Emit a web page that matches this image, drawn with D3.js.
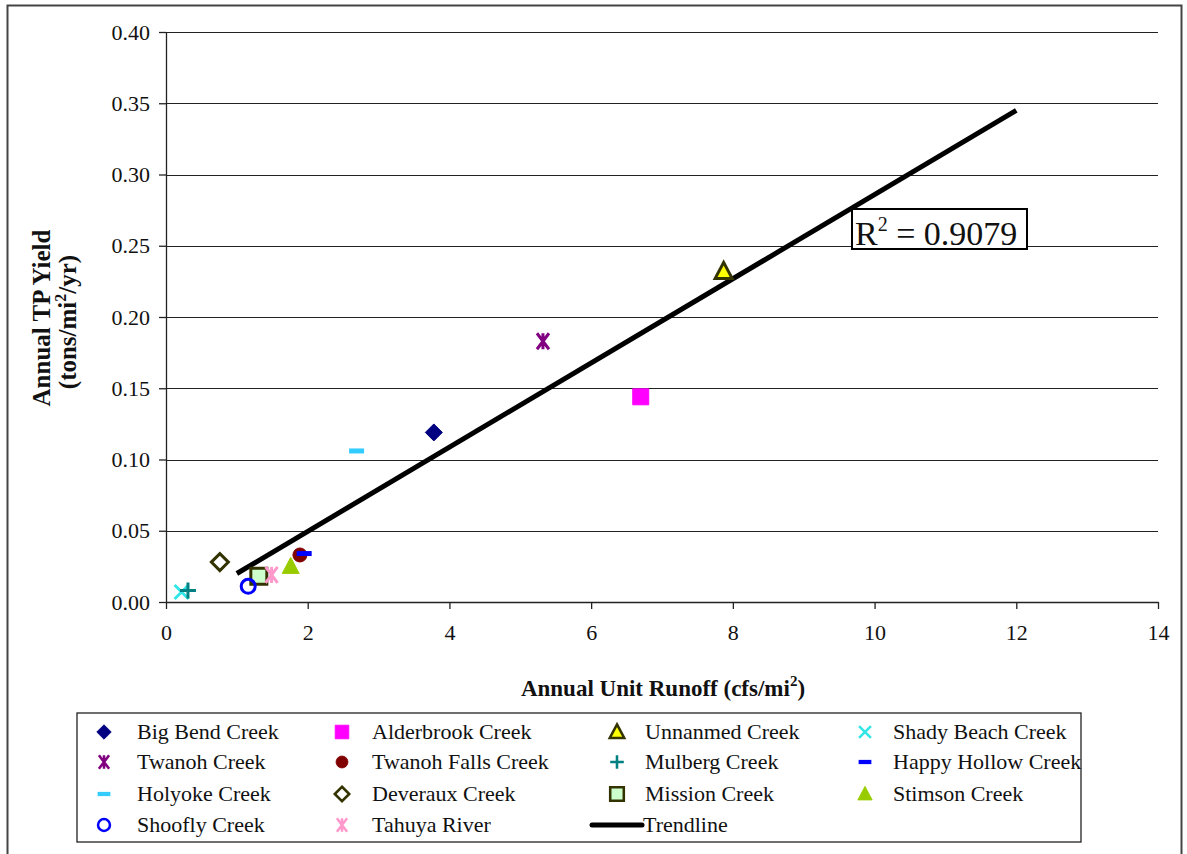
<!DOCTYPE html>
<html lang="en">
<head>
<meta charset="utf-8">
<title>Annual TP Yield vs Annual Unit Runoff</title>
<script src="https://cdn.jsdelivr.net/npm/d3@7"></script>
<style>
  body { margin: 0; background: #fff; }
  text { font-family: "Liberation Serif", "Times New Roman", serif; fill: #111; }
  .tick text { font-family: "Liberation Serif", "Times New Roman", serif; font-size: 22px; fill: #111; }
</style>
</head>
<body>
<script>
// data
var names = ["Big Bend Creek", "Alderbrook Creek", "Unnanmed Creek", "Shady Beach Creek",
             "Twanoh Creek", "Twanoh Falls Creek", "Mulberg Creek", "Happy Hollow Creek",
             "Holyoke Creek", "Deveraux Creek", "Mission Creek", "Stimson Creek",
             "Shoofly Creek", "Tahuya River"];
var runoff = [3.78, 6.70, 7.87, 0.22, 5.32, 1.89, 0.31, 1.95, 2.69, 0.76, 1.31, 1.76, 1.16, 1.49];
var tpYield = [0.119, 0.144, 0.232, 0.007, 0.183, 0.033, 0.008, 0.034, 0.106, 0.028, 0.018, 0.025, 0.011, 0.019];
var trendX = [1, 12];
var trendY = [0.020, 0.345];
var xTicks = [0, 2, 4, 6, 8, 10, 12, 14];
var yTicks = [0, 0.05, 0.10, 0.15, 0.20, 0.25, 0.30, 0.35, 0.40];
var rSquared = "0.9079";

// marker styles, same order as names
var shapes = ["diamond", "square", "triangle", "x", "star", "circle", "plus", "dash",
              "dash", "diamond", "square", "triangle", "circle", "star"];
var fills = ["#000080", "#ff00ff", "#ffff00", "none", "none", "#800000", "none", "#0000ff",
             "#33ccff", "#ffffff", "#ccffcc", "#99cc00", "none", "none"];
var strokes = ["#000080", "#ff00ff", "#333300", "#33e6e6", "#800080", "#800000", "#008080", "#0000ff",
               "#33ccff", "#333300", "#333300", "#99cc00", "#0000ff", "#ff99cc"];

var w = 1187, h = 854;
var m = {left: 166, top: 32, right: 1158, bottom: 602};

var svg = d3.select("body").append("svg").attr("width", w).attr("height", h);

svg.append("rect").attr("x", 7.5).attr("y", 5.5).attr("width", 1174).attr("height", 860)
  .attr("fill", "none").attr("stroke", "#444").attr("stroke-width", 2);

var x = d3.scaleLinear().domain([0, 14]).range([m.left, m.right]);
var y = d3.scaleLinear().domain([0, 0.40]).range([m.bottom, m.top]);

// gridlines
svg.append("g").selectAll("line").data(yTicks.slice(1)).enter().append("line")
  .attr("x1", m.left).attr("x2", m.right)
  .attr("y1", function(d) { return Math.round(y(d)) + 0.5; })
  .attr("y2", function(d) { return Math.round(y(d)) + 0.5; })
  .attr("stroke", "#222").attr("stroke-width", 1);

var xAxis = svg.append("g").attr("transform", "translate(0," + m.bottom + ")")
  .call(d3.axisBottom(x).tickValues(xTicks).tickSize(7).tickSizeOuter(0).tickPadding(15).tickFormat(d3.format("d")));
var yAxis = svg.append("g").attr("transform", "translate(" + m.left + ",0)")
  .call(d3.axisLeft(y).tickValues(yTicks).tickSize(7).tickSizeOuter(0).tickPadding(9).tickFormat(d3.format(".2f")));
[xAxis, yAxis].forEach(function(a) {
  a.attr("font-family", null).attr("font-size", null);
  a.selectAll("path, line").attr("stroke", "#222").attr("stroke-width", 1.3);
});

// axis titles
var xt = svg.append("text").attr("x", 663).attr("y", 696).attr("text-anchor", "middle")
  .style("font-size", "23px").style("font-weight", "bold");
xt.append("tspan").text("Annual Unit Runoff (cfs/mi");
xt.append("tspan").text("2").attr("dy", -10).style("font-size", "15px");
xt.append("tspan").text(")").attr("dy", 10);

svg.append("text").attr("transform", "translate(50,318) rotate(-90)").attr("text-anchor", "middle")
  .style("font-size", "25px").style("font-weight", "bold").text("Annual TP Yield");
var yt2 = svg.append("text").attr("transform", "translate(76,322) rotate(-90)").attr("text-anchor", "middle")
  .style("font-size", "25px").style("font-weight", "bold");
yt2.append("tspan").text("(tons/mi");
yt2.append("tspan").text("2").attr("dy", -10).style("font-size", "16px");
yt2.append("tspan").text("/yr)").attr("dy", 10);

// marker paths centred on 0,0
function markerPath(shape) {
  switch (shape) {
    case "diamond": return "M0,-8.5L8.5,0L0,8.5L-8.5,0Z";
    case "square": return "M-8,-8H8V8H-8Z";
    case "triangle": return "M0,-9L8.5,7H-8.5Z";
    case "circle": return "M7,0A7,7 0 1,1 -7,0A7,7 0 1,1 7,0Z";
    case "x": return "M-7,-7L7,7M-7,7L7,-7";
    case "plus": return "M-8,0H8M0,-8V8";
    case "star": return "M-6,-8L6,8M-6,8L6,-8M0,-8V8";
    case "dash": return "M-7.5,0H7.5";
  }
}
function markerWidth(i) {
  var s = shapes[i];
  if (s === "dash") return 5;
  if (s === "x" || s === "plus" || s === "star") return 3;
  if (s === "circle" && fills[i] === "none") return 3;
  if (fills[i] === "#ffffff" || fills[i] === "#ccffcc" || fills[i] === "#ffff00") return 3;
  return 1;
}
function drawMarker(g, i) {
  g.append("path").attr("d", markerPath(shapes[i]))
    .attr("fill", fills[i]).attr("stroke", strokes[i])
    .attr("stroke-width", markerWidth(i));
}

// trendline
svg.append("line")
  .attr("x1", x(trendX[0])).attr("y1", y(trendY[0]))
  .attr("x2", x(trendX[1])).attr("y2", y(trendY[1]))
  .attr("stroke", "#000").attr("stroke-width", 5);

// points
names.forEach(function(n, i) {
  var g = svg.append("g").attr("transform", "translate(" + x(runoff[i]) + "," + y(tpYield[i]) + ")");
  drawMarker(g, i);
});

// R squared label
svg.append("rect").attr("x", 852).attr("y", 209).attr("width", 175).attr("height", 40)
  .attr("fill", "#fff").attr("stroke", "#000").attr("stroke-width", 2);
var rt = svg.append("text").attr("x", 855).attr("y", 245).style("font-size", "34px");
rt.append("tspan").text("R");
rt.append("tspan").text("2").attr("dy", -14).style("font-size", "20px");
rt.append("tspan").text(" = " + rSquared).attr("dy", 14);

// legend
svg.append("rect").attr("x", 77).attr("y", 713).attr("width", 1004).attr("height", 129)
  .attr("fill", "#fff").attr("stroke", "#222").attr("stroke-width", 1.3);
var colMarker = [104, 342, 617, 865];
var colText = [137, 372, 645, 893];
var rowY = [732, 762, 794, 825];
names.forEach(function(n, i) {
  var c = i % 4, r = Math.floor(i / 4);
  var g = svg.append("g").attr("transform", "translate(" + colMarker[c] + "," + rowY[r] + ") scale(0.85)");
  drawMarker(g, i);
  svg.append("text").attr("x", colText[c]).attr("y", rowY[r] + 7).style("font-size", "22px").text(n);
});
svg.append("line").attr("x1", 592).attr("x2", 642).attr("y1", rowY[3]).attr("y2", rowY[3])
  .attr("stroke", "#000").attr("stroke-width", 5).attr("stroke-linecap", "round");
svg.append("text").attr("x", 643).attr("y", rowY[3] + 7).style("font-size", "22px").text("Trendline");
</script>
</body>
</html>
